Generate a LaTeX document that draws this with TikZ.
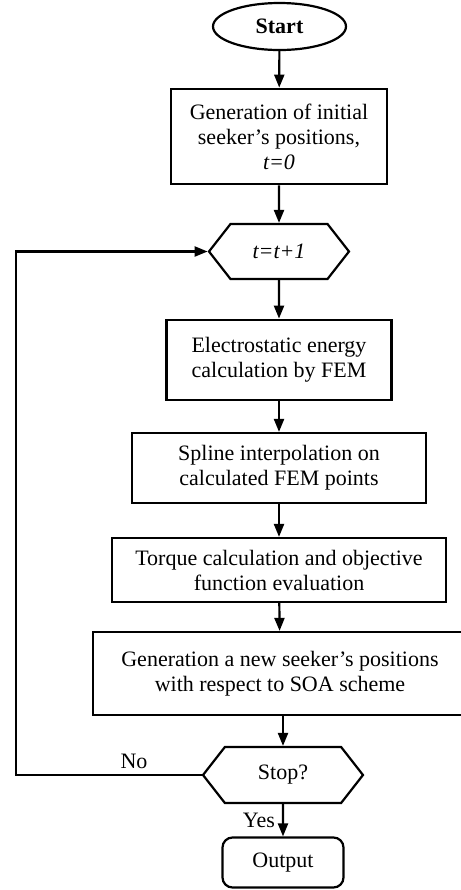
\documentclass[tikz,border=0pt]{standalone}
\usepackage{fontspec}
\setmainfont{Liberation Serif}
\usetikzlibrary{shapes.geometric, shapes.symbols, arrows.meta}

\begin{document}
\begin{tikzpicture}[x=0.5pt, y=-0.5pt,
                    every node/.style={font=\fontsize{11}{12.5}\selectfont},
                    box/.style={draw, line width=1.1pt, align=center,
                                inner sep=0pt, text centered, text=black},
                    hexa/.style={draw, line width=1.1pt, signal,
                                 signal to=east and west, signal pointer angle=104,
                                 inner sep=0pt},
                    flow/.style={line width=1.1pt, -{Triangle[length=6.5pt, width=5pt]}}]
	\useasboundingbox (0, 0) rectangle (461, 890);
	\clip (0, 0) rectangle (461, 890);

	\node[box, ellipse, minimum width=66.5pt, minimum height=23.5pt] (start) at (279.5, 26.5) {\textbf{Start}};
	\node[box, line width=1.4pt, minimum width=108pt, minimum height=47.5pt] (init) at (279, 136.5) {Generation of initial\\ seeker's positions,\\ \textit{t=0}};
	\node[hexa, minimum width=70pt, minimum height=27.5pt] (iter) at (279, 251.5) {\textit{t=t+1}};
	\node[box, line width=1.4pt, minimum width=112.5pt, minimum height=40pt] (fem) at (279, 360) {Electrostatic energy\\ calculation by FEM};
	\node[box, minimum width=147pt, minimum height=35pt] (spline) at (279, 468) {Spline interpolation on\\ calculated FEM points};
	\node[box, minimum width=167pt, minimum height=32pt] (torque) at (279, 570) {Torque calculation and objective\\ function evaluation};
	\node[box, minimum width=187pt, minimum height=41.5pt] (update) at (280, 673.5) {Generation a new seeker's positions\\ with respect to SOA scheme};
	\node[hexa, minimum width=80pt, minimum height=28pt] (stop) at (283, 775) {Stop?};
	\node[box, rounded corners=5pt, minimum width=60.5pt, minimum height=25pt] (out) at (283, 862.5) {Output};
	\node[] (no) at (134, 761) {No};
	\node[] (yes) at (259, 820) {Yes};
	\coordinate (back) at (16, 775);

	\path[flow] (start) edge (init);
	\path[flow] (init)  edge (iter);
	\path[flow] (iter)  edge (fem);
	\path[flow] (fem)   edge (spline);
	\path[flow] (spline) edge (torque);
	\path[flow] (torque) edge (update);
	\draw[flow] (update.south -| stop.north) -- (stop.north);
	\path[flow] (stop)  edge (out);
	\draw[flow] (stop.west) -- (back) |- (iter.west);

\end{tikzpicture}
\end{document}
